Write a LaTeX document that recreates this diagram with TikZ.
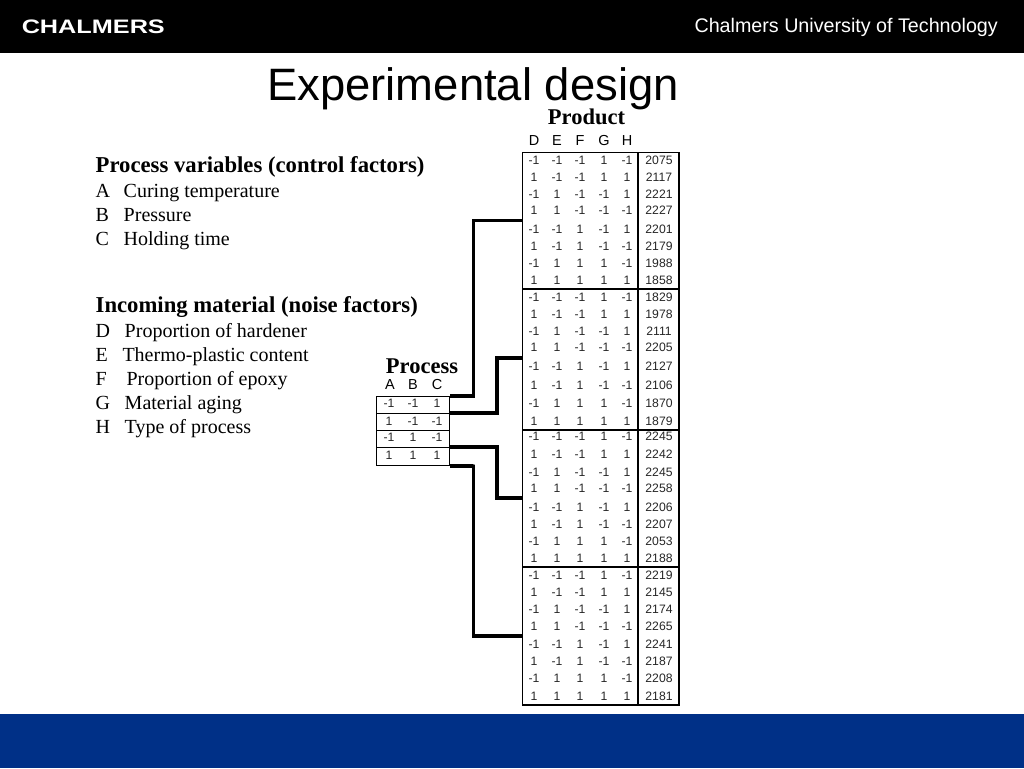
\documentclass[tikz,border=0pt]{standalone}
\usepackage{fontspec}
\setmainfont{Liberation Serif}
\newfontfamily\arialf{Liberation Sans}
\definecolor{chalmersblue}{HTML}{003087}
\tikzset{
  cellt/.style={font=\arialf\fontsize{12.2}{13}\selectfont,inner sep=0pt,text=black!85,yshift=-0.6pt},
  headt/.style={font=\arialf\fontsize{14.5}{15}\selectfont,inner sep=0pt},
  titlet/.style={font=\bfseries\fontsize{22.5}{24}\selectfont,inner sep=0pt,anchor=base},
  lefthead/.style={font=\bfseries\fontsize{22.7}{24}\selectfont,inner sep=0pt,anchor=base west},
  leftline/.style={font=\fontsize{20}{22}\selectfont,inner sep=0pt,anchor=base west},
  frameline/.style={draw=black,line width=1.4pt},
  linkline/.style={draw=black,line width=3.6pt,line join=miter},
  rowbox/.style={frameline,minimum width=73pt,inner sep=0pt,anchor=north west},
  halfblock/.style={minimum width=116pt,inner sep=0pt,anchor=north west}
}
\begin{document}
\begin{tikzpicture}[x=1pt,y=-1pt]
\useasboundingbox (0,0) rectangle (1024,768);
\fill[black] (0,0) rectangle (1024,53.5);
\fill[chalmersblue] (0,714) rectangle (1024,768);
\node[inner sep=0pt,anchor=base west,text=white,font=\arialf\bfseries\fontsize{19.5}{20}\selectfont,xscale=1.295] (logo) at (21.5,33.5) {CHALMERS};
\node[inner sep=0pt,anchor=base east,text=white,font=\arialf\fontsize{19.7}{21}\selectfont] (uni) at (998,33) {Chalmers University of Technology};
\node[inner sep=0pt,anchor=base,font=\arialf\fontsize{45.4}{48}\selectfont] (title) at (473,100) {Experimental design};
\node[titlet] (product) at (586.5,124) {Product};
\node[titlet] (process) at (422,373) {Process};
% left text
\node[lefthead] (h1) at (95.5,172) {Process variables (control factors)};
\node[leftline] (a) at (95.5,197) {A\kern 13.6pt Curing temperature};
\node[leftline] (b) at (95.5,221) {B\kern 14.7pt Pressure};
\node[leftline] (c) at (95.5,245) {C\kern 14.7pt Holding time};
\node[lefthead] (h2) at (95.5,312) {Incoming material (noise factors)};
\node[leftline] (d) at (95.5,337) {D\kern 14.6pt Proportion of hardener};
\node[leftline] (e) at (95.5,361) {E\kern 14.6pt Thermo-plastic content};
\node[leftline] (f) at (95.5,385) {F\kern 19.7pt Proportion of epoxy};
\node[leftline] (g) at (95.5,409) {G\kern 14.6pt Material aging};
\node[leftline] (hh) at (95.5,433) {H\kern 14.6pt Type of process};
% headers
\foreach \x/\t [count=\i] in {534/D,557/E,580/F,604/G,627/H}
  \node[headt] (ph\i) at (\x,141) {\t};
\foreach \x/\t [count=\i] in {390/A,413/B,437/C}
  \node[headt] (qh\i) at (\x,385) {\t};
% process table
\foreach \top/\hgt/\n in {396/16.7/1,412.7/17.3/2,430/17/3,447/17.7/4}
  \node[rowbox,minimum height=\hgt pt] (p\n) at (376,\top) {};
\foreach \y/\a/\b/\c [count=\i] in {403/-1/-1/1,421/1/-1/-1,437/-1/1/-1,455/1/1/1}{
  \node[cellt] (pa\i) at (389,\y) {\a};
  \node[cellt] (pb\i) at (413,\y) {\b};
  \node[cellt] (pc\i) at (437,\y) {\c};
}
% product table: half-block regions
\foreach \top/\hgt/\n in {152.5/68/1,220.5/68.5/2,289/69/3,358/72/4,430/68/5,498/69/6,567/69/7,636/69/8}
  \node[halfblock,minimum height=\hgt pt] (b\n) at (522.5,\top) {};
\draw[frameline] (b1.north west) rectangle (679,705);
\draw[frameline] (638,152.5) -- (638,705);
\draw[frameline] (b3.north west) -- (679,289);
\draw[frameline] (b5.north west) -- (679,430);
\draw[frameline] (b7.north west) -- (679,567);
\foreach \y/\a/\b/\c/\d/\e/\v [count=\i] in {
 160/-1/-1/-1/1/-1/2075,177/1/-1/-1/1/1/2117,194/-1/1/-1/-1/1/2221,210/1/1/-1/-1/-1/2227,
 229/-1/-1/1/-1/1/2201,246/1/-1/1/-1/-1/2179,263/-1/1/1/1/-1/1988,280/1/1/1/1/1/1858,
 297/-1/-1/-1/1/-1/1829,314/1/-1/-1/1/1/1978,331/-1/1/-1/-1/1/2111,347/1/1/-1/-1/-1/2205,
 366/-1/-1/1/-1/1/2127,385/1/-1/1/-1/-1/2106,403/-1/1/1/1/-1/1870,421/1/1/1/1/1/1879,
 436/-1/-1/-1/1/-1/2245,454/1/-1/-1/1/1/2242,472/-1/1/-1/-1/1/2245,488/1/1/-1/-1/-1/2258,
 507/-1/-1/1/-1/1/2206,524/1/-1/1/-1/-1/2207,541/-1/1/1/1/-1/2053,558/1/1/1/1/1/2188,
 575/-1/-1/-1/1/-1/2219,592/1/-1/-1/1/1/2145,609/-1/1/-1/-1/1/2174,626/1/1/-1/-1/-1/2265,
 644/-1/-1/1/-1/1/2241,661/1/-1/1/-1/-1/2187,678/-1/1/1/1/-1/2208,696/1/1/1/1/1/2181}{
  \node[cellt] (ca\i) at (534,\y) {\a};
  \node[cellt] (cb\i) at (557,\y) {\b};
  \node[cellt] (cc\i) at (580,\y) {\c};
  \node[cellt] (cd\i) at (604,\y) {\d};
  \node[cellt] (ce\i) at (627,\y) {\e};
  \node[cellt] (cv\i) at (659,\y) {\v};
}
% connectors
\draw[linkline] (p1.north east) -| (473.5,396) |- (b2.north west);
\draw[linkline] (p2.north east) -| (497,412.7) |- (b4.north west);
\draw[linkline] (p4.north east) -| (497,447) |- (b6.north west);
\draw[linkline] (p4.south east) -| (473.5,464.7) |- (b8.north west);
\end{tikzpicture}
\end{document}
